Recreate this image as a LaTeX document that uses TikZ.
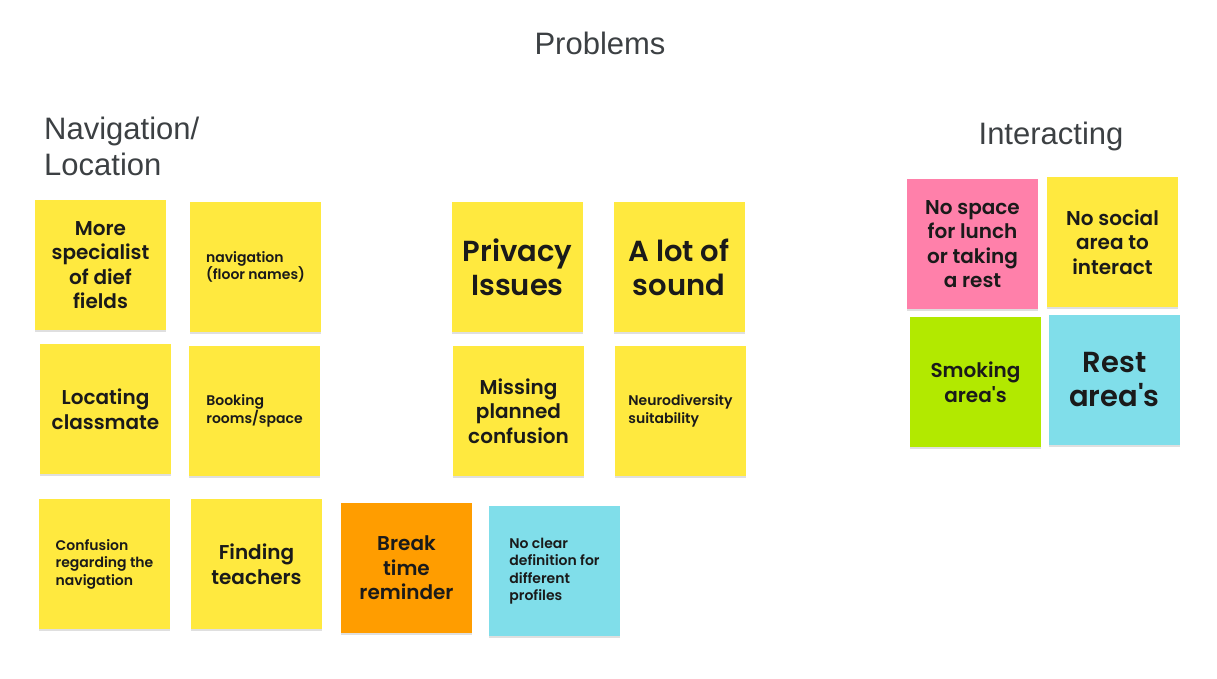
\documentclass[tikz,border=0pt]{standalone}
\usepackage{fontspec}
\setmainfont{Poppins}[Ligatures=TeXOff, BoldFont={Poppins SemiBold}]
\newfontfamily\headfont{Liberation Sans}
\usetikzlibrary{shadows}
\definecolor{nyellow}{HTML}{FFE93F}
\definecolor{npink}{HTML}{FF80AA}
\definecolor{ngreen}{HTML}{B2E900}
\definecolor{ncyan}{HTML}{80DEEA}
\definecolor{norange}{HTML}{FF9D00}
\definecolor{headgray}{HTML}{3C4043}
\definecolor{ink}{HTML}{1A1A1A}
\tikzset{
  notebox/.style={minimum width=131pt, minimum height=130pt, inner sep=0pt, draw=none,
    drop shadow={shadow xshift=0pt, shadow yshift=-1.5pt, opacity=0.25}},
  notetext/.style={inner sep=0pt, text=ink},
  bigtxt/.style={notetext, align=center, font=\bfseries\fontsize{29}{34}\selectfont},
  midtxt/.style={notetext, align=center, font=\bfseries\fontsize{20}{24.5}\selectfont},
  smltxt/.style={notetext, align=left, font=\bfseries\fontsize{14}{17.5}\selectfont},
  heading/.style={inner sep=0pt, text=headgray, font=\headfont\fontsize{31}{36}\selectfont},
}
\begin{document}
\begin{tikzpicture}[x=1pt,y=1pt]
\useasboundingbox (0,0) rectangle (1217,-678);
% headings
\node[heading] (hprob) at (600,-43) {Problems};
\node[heading, align=left, anchor=north west] (hnav) at (44,-117) {Navigation/\\Location};
\node[heading] (hint) at (1051,-136) {Interacting};
% notes
\node[notebox, fill=nyellow] (n1) at (100.5,-265) {};
\node[midtxt] (t1) at (n1.center) {More\\specialist\\of dief\\fields};
\node[notebox, fill=nyellow] (n2) at (255.5,-267) {};
\node[smltxt] (t2) at (n2.center) {navigation\\(floor names)};
\node[notebox, fill=nyellow] (n3) at (517.5,-267) {};
\node[bigtxt] (t3) at (n3.center) {Privacy\\Issues};
\node[notebox, fill=nyellow] (n4) at (679,-267) {};
\node[bigtxt] (t4) at (n4.center) {A lot of\\sound};
\node[notebox, fill=nyellow] (n5) at (105.5,-409) {};
\node[midtxt] (t5) at (n5.center) {Locating\\classmate};
\node[notebox, fill=nyellow] (n6) at (254.5,-411) {};
\node[smltxt] (t6) at (n6.center) {Booking\\rooms/space};
\node[notebox, fill=nyellow] (n7) at (518.5,-411) {};
\node[midtxt] (t7) at (n7.center) {Missing\\planned\\confusion};
\node[notebox, fill=nyellow] (n8) at (680.5,-411) {};
\node[smltxt] (t8) at (n8.center) {Neurodiversity\\suitability};
\node[notebox, fill=nyellow] (n9) at (104.5,-564) {};
\node[smltxt] (t9) at (n9.center) {Confusion\\regarding the\\navigation};
\node[notebox, fill=nyellow] (n10) at (256.5,-564) {};
\node[midtxt] (t10) at (n10.center) {Finding\\teachers};
\node[notebox, fill=norange] (n11) at (406.5,-568) {};
\node[midtxt] (t11) at (n11.center) {Break\\time\\reminder};
\node[notebox, fill=ncyan] (n12) at (554.5,-571) {};
\node[smltxt] (t12) at (n12.center) {No clear\\definition for\\different\\profiles};
\node[notebox, fill=npink] (n13) at (972.5,-244) {};
\node[midtxt] (t13) at (n13.center) {No space\\for lunch\\or taking\\a rest};
\node[notebox, fill=nyellow] (n14) at (1112.5,-242) {};
\node[midtxt] (t14) at (n14.center) {No social\\area to\\interact};
\node[notebox, fill=ngreen] (n15) at (975.5,-382) {};
\node[midtxt] (t15) at (n15.center) {Smoking\\area's};
\node[notebox, fill=ncyan] (n16) at (1114.5,-380) {};
\node[bigtxt] (t16) at (n16.center) {Rest\\area's};
\end{tikzpicture}
\end{document}
